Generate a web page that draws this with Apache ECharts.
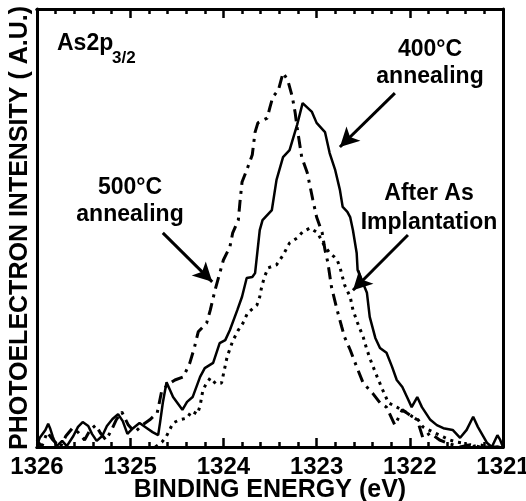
<!DOCTYPE html>
<html>
<head>
<meta charset="utf-8">
<script src="https://cdn.jsdelivr.net/npm/echarts@6/dist/echarts.min.js"></script>
<style>
  html, body { margin: 0; padding: 0; background: #fff; }
  #chart { width: 526px; height: 501px; }
</style>
</head>
<body>
<div id="chart"></div>
<script>
// binding energy (eV) / intensity (a.u., 0-100)
var anneal400Energy = [1326.00, 1325.97, 1325.91, 1325.88, 1325.86, 1325.83, 1325.79, 1325.73, 1325.68, 1325.61,
  1325.56, 1325.51, 1325.45, 1325.41, 1325.36, 1325.30, 1325.25, 1325.19, 1325.13, 1325.08,
  1325.03, 1324.97, 1324.90, 1324.82, 1324.76, 1324.70, 1324.68, 1324.65, 1324.61, 1324.54,
  1324.44, 1324.39, 1324.33, 1324.25, 1324.20, 1324.11, 1324.04, 1323.98, 1323.93, 1323.85,
  1323.80, 1323.75, 1323.69, 1323.66, 1323.61, 1323.58, 1323.48, 1323.43, 1323.36, 1323.29,
  1323.21, 1323.15, 1323.05, 1323.00, 1322.91, 1322.86, 1322.80, 1322.75, 1322.72, 1322.67,
  1322.64, 1322.61, 1322.57, 1322.56, 1322.46, 1322.43, 1322.37, 1322.32, 1322.25, 1322.19,
  1322.14, 1322.08, 1322.03, 1321.98, 1321.92, 1321.87, 1321.78, 1321.71, 1321.64, 1321.54,
  1321.46, 1321.39, 1321.32, 1321.27, 1321.17, 1321.12, 1321.06, 1321.03, 1321.00];
var anneal400Intensity = [0.5, 2.1, 3.9, 5.3, 4.3, 2.3, 0.2, 1.4, 0.2, 2.5,
  4.6, 5.7, 4.8, 3.0, 1.4, 2.5, 4.8, 6.4, 7.5, 5.9,
  3.0, 4.3, 5.5, 4.3, 3.4, 2.7, 5.5, 10.1, 14.8, 11.4,
  8.5, 10.3, 11.4, 16.0, 18.0, 19.2, 23.7, 24.4, 26.7, 31.3,
  34.3, 38.6, 38.8, 39.7, 49.5, 51.8, 54.1, 61.0, 66.2, 67.8,
  73.5, 78.5, 76.5, 74.0, 71.9, 67.1, 63.2, 58.7, 54.8, 53.7,
  52.5, 49.5, 44.3, 40.4, 35.2, 29.7, 24.9, 22.6, 21.5, 18.3,
  15.3, 13.7, 11.4, 9.1, 11.4, 9.1, 6.2, 5.0, 4.3, 3.9,
  2.1, 3.9, 6.9, 4.6, 0.9, 0.0, 2.7, 1.6, 0.0];

var anneal500Energy = [1326.00, 1325.95, 1325.89, 1325.83, 1325.75, 1325.69, 1325.62, 1325.56, 1325.49, 1325.43,
  1325.37, 1325.32, 1325.26, 1325.20, 1325.15, 1325.09, 1325.02, 1324.95, 1324.87, 1324.79,
  1324.71, 1324.66, 1324.57, 1324.52, 1324.43, 1324.36, 1324.31, 1324.27, 1324.18, 1324.14,
  1324.09, 1324.06, 1324.00, 1323.93, 1323.90, 1323.84, 1323.82, 1323.80, 1323.75, 1323.69,
  1323.68, 1323.66, 1323.63, 1323.53, 1323.50, 1323.47, 1323.41, 1323.36, 1323.31, 1323.26,
  1323.23, 1323.21, 1323.16, 1323.10, 1323.04, 1323.00, 1322.94, 1322.91, 1322.88, 1322.84,
  1322.78, 1322.73, 1322.70, 1322.64, 1322.57, 1322.50, 1322.40, 1322.32, 1322.25, 1322.16,
  1322.08, 1322.00, 1321.92, 1321.86, 1321.78, 1321.68, 1321.57, 1321.46, 1321.35, 1321.25,
  1321.00];
var anneal500Intensity = [1.6, 0.0, 3.4, 1.6, 0.0, 2.5, 4.3, 3.4, 1.6, 3.9,
  5.0, 3.2, 1.6, 3.9, 6.2, 8.0, 5.0, 3.4, 5.0, 6.2,
  7.8, 13.0, 14.6, 15.3, 16.0, 19.2, 22.8, 26.3, 28.3, 31.3,
  35.8, 38.1, 42.7, 45.7, 48.9, 51.8, 56.4, 60.5, 63.2, 66.7,
  68.5, 71.9, 74.0, 75.1, 77.6, 79.9, 81.5, 85.4, 83.8, 79.9,
  76.3, 73.1, 66.2, 62.6, 56.4, 52.5, 48.9, 45.0, 42.2, 36.5,
  31.3, 27.4, 25.1, 22.2, 18.3, 14.6, 12.3, 10.1, 9.1, 5.0,
  8.5, 7.3, 6.2, 2.1, 3.2, 1.6, 0.7, 0.0, 0.5, 0.0,
  0.0];

var implantEnergy = [1324.73, 1324.66, 1324.61, 1324.54, 1324.47, 1324.39, 1324.34, 1324.28, 1324.25, 1324.22,
  1324.19, 1324.14, 1324.08, 1324.02, 1323.99, 1323.96, 1323.90, 1323.84, 1323.79, 1323.74,
  1323.68, 1323.64, 1323.61, 1323.59, 1323.56, 1323.52, 1323.43, 1323.36, 1323.29, 1323.21,
  1323.15, 1323.07, 1322.99, 1322.92, 1322.86, 1322.81, 1322.78, 1322.75, 1322.70, 1322.64,
  1322.61, 1322.56, 1322.50, 1322.46, 1322.41, 1322.35, 1322.29, 1322.23, 1322.14, 1322.03,
  1321.97, 1321.91, 1321.86, 1321.75, 1321.64, 1321.57, 1321.49, 1321.43, 1321.35, 1321.25,
  1321.14, 1321.00];
var implantIntensity = [0.0, 1.1, 2.5, 5.5, 6.2, 6.6, 8.2, 7.5, 9.4, 13.0,
  14.2, 15.8, 14.4, 14.6, 17.6, 20.6, 24.2, 26.7, 28.3, 30.6,
  31.7, 32.4, 34.3, 36.5, 38.8, 40.9, 41.6, 43.8, 46.6, 47.7,
  49.1, 50.0, 48.9, 46.1, 44.3, 43.4, 42.7, 41.1, 37.0, 34.3,
  31.3, 28.3, 25.1, 22.2, 19.2, 16.0, 13.0, 10.1, 9.1, 7.8,
  6.9, 6.2, 4.6, 3.4, 2.3, 1.6, 1.1, 0.9, 0.0, 0.5,
  0.0, 0.0];

// arrows: [tail energy, tail intensity, head energy, head intensity]
var arrow400 = [1322.16, 80.8, 1322.75, 68.5];
var arrow500 = [1324.65, 48.9, 1324.12, 37.7];
var arrowImplant = [1322.02, 48.4, 1322.61, 35.8];

var xRange = [1321, 1326];
var majorStep = 1;
var minorStep = 0.2;

function pairs(xs, ys) {
  return xs.map(function (x, i) { return [x, ys[i]]; });
}
function arrowLine(a) {
  return [{ coord: [a[0], a[1]] }, { coord: [a[2], a[3]] }];
}

var font = '"Liberation Sans", Arial, sans-serif';
var chart = echarts.init(document.getElementById('chart'));

// grid 0 carries the long 1 eV ticks, grid 1 (same box) the short 0.2 eV ones
function energyAxis(gridIndex, pos, step, tickLen, withLabels) {
  var ax = {
    type: 'value',
    gridIndex: gridIndex,
    position: pos,
    min: xRange[0],
    max: xRange[1],
    interval: step,
    inverse: true,
    z: 10,
    axisLine: { show: true, onZero: false, lineStyle: { color: '#000', width: 3 } },
    axisTick: { show: true, inside: true, length: tickLen, lineStyle: { color: '#000', width: 2.5 } },
    splitLine: { show: false },
    axisLabel: { show: false }
  };
  if (withLabels) {
    ax.name = 'BINDING ENERGY (eV)';
    ax.nameLocation = 'middle';
    ax.nameGap = 31;
    ax.nameMoveOverlap = false;
    ax.nameTextStyle = { fontSize: 25, fontWeight: 'bold', color: '#000', fontFamily: font };
    ax.axisLabel = {
      show: true, margin: 8, fontSize: 24, fontWeight: 'bold', color: '#000', fontFamily: font,
      formatter: function (v) { return String(v); }
    };
  }
  return ax;
}

function intensityAxis(gridIndex, pos, withName) {
  var ax = {
    type: 'value',
    gridIndex: gridIndex,
    position: pos,
    min: 0,
    max: 100,
    z: 10,
    axisLine: { show: gridIndex === 0, onZero: false, lineStyle: { color: '#000', width: 3 } },
    axisTick: { show: false },
    axisLabel: { show: false },
    splitLine: { show: false }
  };
  if (withName) {
    ax.name = 'PHOTOELECTRON INTENSITY ( A.U.)';
    ax.nameLocation = 'middle';
    ax.nameRotate = 90;
    ax.nameGap = 4;
    ax.nameMoveOverlap = false;
    ax.nameTextStyle = { fontSize: 25, fontWeight: 'bold', color: '#000', fontFamily: font };
  }
  return ax;
}

var box = { left: 37, right: 23, top: 9, bottom: 54, outerBoundsMode: 'none' };

chart.setOption({
  animation: false,
  backgroundColor: '#fff',
  textStyle: { fontFamily: font },
  grid: [Object.assign({}, box), Object.assign({}, box)],
  xAxis: [
    energyAxis(0, 'bottom', majorStep, 9, true),
    energyAxis(0, 'top', majorStep, 9, false),
    energyAxis(1, 'bottom', minorStep, 5, false),
    energyAxis(1, 'top', minorStep, 5, false)
  ],
  yAxis: [
    intensityAxis(0, 'left', true),
    intensityAxis(0, 'right', false),
    intensityAxis(1, 'left', false)
  ],
  series: [
    {
      name: '400°C annealing',
      type: 'line',
      xAxisIndex: 0,
      yAxisIndex: 0,
      data: pairs(anneal400Energy, anneal400Intensity),
      symbol: 'none',
      lineStyle: { color: '#000', width: 2.5, type: 'solid' },
      markLine: {
        silent: true,
        symbol: ['none', 'arrow'],
        symbolSize: [15, 19],
        label: { show: false },
        lineStyle: { color: '#000', width: 3, type: 'solid' },
        data: [arrowLine(arrow400), arrowLine(arrow500), arrowLine(arrowImplant)]
      }
    },
    {
      name: '500°C annealing',
      type: 'line',
      xAxisIndex: 0,
      yAxisIndex: 0,
      data: pairs(anneal500Energy, anneal500Intensity),
      symbol: 'none',
      lineStyle: { color: '#000', width: 3, type: [12, 6, 3, 6] }
    },
    {
      name: 'After As Implantation',
      type: 'line',
      xAxisIndex: 0,
      yAxisIndex: 0,
      data: pairs(implantEnergy, implantIntensity),
      symbol: 'none',
      lineStyle: { color: '#000', width: 3, type: [3, 5] }
    }
  ],
  graphic: [
    { type: 'text', left: 57, top: 32, style: { text: 'As2p', font: 'bold 23px ' + font, fill: '#000' } },
    { type: 'text', left: 112, top: 50, style: { text: '3/2', font: 'bold 17px ' + font, fill: '#000' } },
    { type: 'text', x: 430, y: 63, style: { text: '400°C\nannealing', font: 'bold 23px ' + font, fill: '#000', align: 'center', verticalAlign: 'middle', lineHeight: 27 } },
    { type: 'text', x: 130, y: 201, style: { text: '500°C\nannealing', font: 'bold 23px ' + font, fill: '#000', align: 'center', verticalAlign: 'middle', lineHeight: 27 } },
    { type: 'text', x: 429, y: 208, style: { text: 'After As\nImplantation', font: 'bold 23px ' + font, fill: '#000', align: 'center', verticalAlign: 'middle', lineHeight: 29 } }
  ]
});
</script>
</body>
</html>
